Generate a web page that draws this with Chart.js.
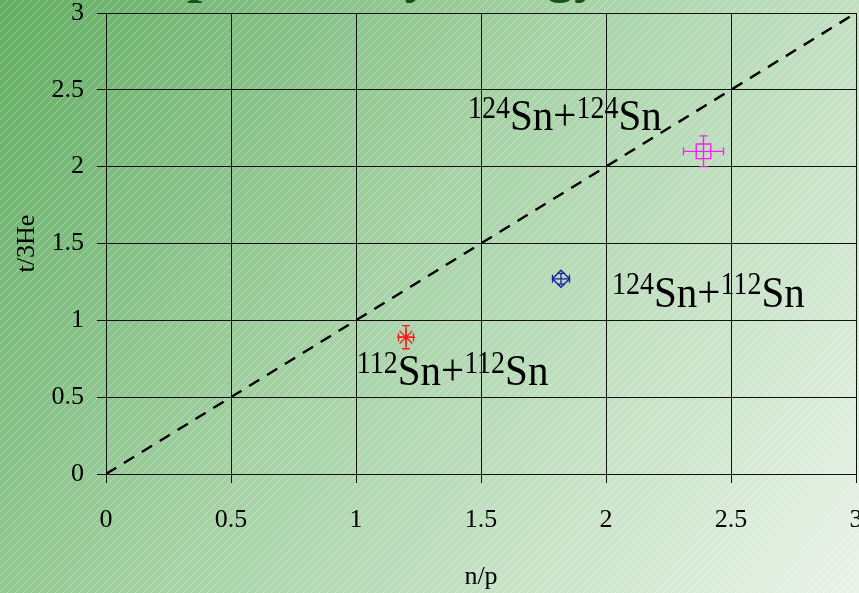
<!DOCTYPE html>
<html>
<head>
<meta charset="utf-8">
<script src="https://cdn.jsdelivr.net/npm/chart.js@4/dist/chart.umd.min.js"></script>
<style>
  html, body { margin: 0; padding: 0; overflow: hidden; background: #fff; }
  #wrap { width: 859px; height: 593px; position: relative; }
  canvas { display: block; }
</style>
</head>
<body>
<div id="wrap"><canvas id="c" width="859" height="593"></canvas></div>
<script>
// Reaction systems and measured t/3He yield ratio versus n/p of the system
const systems  = ['112Sn+112Sn', '124Sn+112Sn', '124Sn+124Sn'];
const npRatio  = [1.20, 1.82, 2.39];
const tHeRatio = [0.89, 1.27, 2.10];
const npErr    = [0.03, 0.034, 0.08];
const tHeErr   = [0.075, 0.035, 0.10];

// Axis ticks (both axes share the same range)
const tickValues = [0, 0.5, 1, 1.5, 2, 2.5, 3];
const tickLabels = ['0', '0.5', '1', '1.5', '2', '2.5', '3'];

// Reference line t/3He = n/p
const diagonal = [0, 3];

const markerStyle  = ['star', 'rectRot', 'rect'];
const markerColor  = ['#ff1a1a', '#1c1ca8', '#ff1aff'];
const markerRadius = [9, 8.5, 10.3];

const SERIF = '"Liberation Serif", "Times New Roman", serif';

// Green gradient page background with fine diagonal hatching and the slide heading
const backdrop = {
  id: 'backdrop',
  beforeDraw(chart) {
    const { ctx, width, height } = chart;
    ctx.save();
    const g = ctx.createLinearGradient(0, 0, width, height);
    g.addColorStop(0, '#62ad62');
    g.addColorStop(0.45, '#a6d2a6');
    g.addColorStop(1, '#eaf3e9');
    ctx.fillStyle = g;
    ctx.fillRect(0, 0, width, height);

    ctx.strokeStyle = 'rgba(255,255,255,0.3)';
    ctx.lineWidth = 1;
    ctx.beginPath();
    for (let k = -height; k < width + height; k += 8) {
      ctx.moveTo(k, height);
      ctx.lineTo(k + height, 0);
    }
    ctx.stroke();

    ctx.font = 'bold 54px ' + SERIF;
    ctx.fillStyle = '#14541c';
    ctx.textBaseline = 'alphabetic';
    ctx.fillText('Comparison by energy', 76, -9);
    ctx.restore();
  }
};

// Error bars with end caps, placed through the chart scales
const errorBars = {
  id: 'errorBars',
  afterDatasetsDraw(chart) {
    const { ctx, scales: { x, y } } = chart;
    const cap = 4;
    ctx.save();
    ctx.lineWidth = 1.3;
    npRatio.forEach((v, i) => {
      const cx = x.getPixelForValue(v);
      const cy = y.getPixelForValue(tHeRatio[i]);
      const x0 = x.getPixelForValue(v - npErr[i]);
      const x1 = x.getPixelForValue(v + npErr[i]);
      const y0 = y.getPixelForValue(tHeRatio[i] - tHeErr[i]);
      const y1 = y.getPixelForValue(tHeRatio[i] + tHeErr[i]);
      ctx.strokeStyle = markerColor[i];
      ctx.beginPath();
      ctx.moveTo(x0, cy); ctx.lineTo(x1, cy);
      ctx.moveTo(x0, cy - cap); ctx.lineTo(x0, cy + cap);
      ctx.moveTo(x1, cy - cap); ctx.lineTo(x1, cy + cap);
      ctx.moveTo(cx, y0); ctx.lineTo(cx, y1);
      ctx.moveTo(cx - cap, y0); ctx.lineTo(cx + cap, y0);
      ctx.moveTo(cx - cap, y1); ctx.lineTo(cx + cap, y1);
      ctx.stroke();
    });
    ctx.restore();
  }
};

// System names with superscript mass numbers, anchored in axis units
const systemLabels = {
  id: 'systemLabels',
  afterDatasetsDraw(chart, args, opts) {
    const { ctx, scales: { x, y } } = chart;
    ctx.save();
    ctx.fillStyle = '#000';
    ctx.textBaseline = 'alphabetic';
    systems.forEach((name, i) => {
      const [ax, ay] = opts.anchors[i];
      let px = x.getPixelForValue(ax);
      const py = y.getPixelForValue(ay);
      ctx.save();
      ctx.translate(0, py);
      ctx.scale(1, 1.1);
      const parts = name.match(/\d+|[^\d]+/g);
      parts.forEach(p => {
        const isMass = /^\d+$/.test(p);
        ctx.font = (isMass ? '28px ' : '41px ') + SERIF;
        ctx.fillText(p, px, isMass ? -11 : 0);
        px += ctx.measureText(p).width;
      });
      ctx.restore();
    });
    ctx.restore();
  }
};

const noPad = () => ({ left: 0, top: 0, right: 0, bottom: 0 });

const axisCommon = {
  type: 'linear',
  min: 0,
  max: 3,
  afterBuildTicks(scale) {
    scale.ticks = tickValues.map(v => ({ value: v }));
  },
  grid: { color: '#111', lineWidth: 1, tickLength: 9, drawTicks: true, tickColor: '#111' },
  border: { display: true, color: '#111', width: 1 }
};

new Chart(document.getElementById('c'), {
  data: {
    datasets: [
      {
        type: 'line',
        data: diagonal.map(v => ({ x: v, y: v })),
        borderColor: '#000',
        borderWidth: 2.4,
        borderDash: [12, 9],
        pointRadius: 0,
        fill: false,
        tension: 0
      },
      {
        type: 'scatter',
        data: npRatio.map((v, i) => ({ x: v, y: tHeRatio[i] })),
        pointStyle: markerStyle,
        pointRadius: markerRadius,
        borderColor: markerColor,
        backgroundColor: 'rgba(0,0,0,0)',
        borderWidth: 1.4
      }
    ]
  },
  options: {
    responsive: false,
    animation: false,
    devicePixelRatio: 1,
    layout: { autoPadding: false, padding: { top: 13, right: 3, left: 0, bottom: 0 } },
    plugins: {
      legend: { display: false },
      tooltip: { enabled: false },
      systemLabels: { anchors: [[1.003, 0.58], [2.024, 1.09], [1.448, 2.241]] }
    },
    scales: {
      x: Object.assign({}, axisCommon, {
        position: 'bottom',
        ticks: {
          padding: 22,
          color: '#000',
          font: { family: SERIF, size: 26 },
          maxRotation: 0,
          callback: v => tickLabels[tickValues.indexOf(v)]
        },
        title: { display: true, text: 'n/p', color: '#000', font: { family: SERIF, size: 26 }, padding: { top: 0, bottom: 0 } },
        afterFit(s) { s.height = 119; s.paddingLeft = 0; s.paddingRight = 0; s.getPadding = noPad; }
      }),
      y: Object.assign({}, axisCommon, {
        position: 'left',
        ticks: {
          padding: 13,
          color: '#000',
          font: { family: SERIF, size: 26 },
          callback: v => tickLabels[tickValues.indexOf(v)]
        },
        title: { display: true, text: 't/3He', color: '#000', font: { family: SERIF, size: 26 }, padding: { top: 12, bottom: 0 } },
        afterFit(s) { s.width = 106; s.paddingTop = 0; s.paddingBottom = 0; s.getPadding = noPad; }
      })
    }
  },
  plugins: [backdrop, errorBars, systemLabels]
});
</script>
</body>
</html>
